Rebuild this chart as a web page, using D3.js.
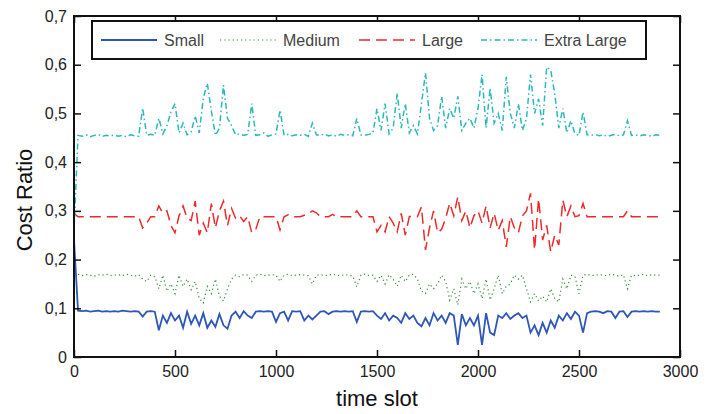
<!DOCTYPE html>
<html>
<head>
<meta charset="utf-8">
<script src="https://cdn.jsdelivr.net/npm/d3@7"></script>
<style>
	body { margin: 0; background: #fff; }
	text { font-family: "Liberation Sans", Arial, sans-serif; }
</style>
</head>
<body>
<div id="chart"></div>
<script>
// one value every 20 time slots, from slot 0 to slot 2900
const step = 20

const small = [
	0.24, 0.095, 0.094, 0.095, 0.093, 0.094, 0.095, 0.093, 0.094, 0.093,
	0.094, 0.093, 0.095, 0.094, 0.093, 0.094, 0.093, 0.083, 0.093, 0.094,
	0.093, 0.055, 0.085, 0.07, 0.09, 0.075, 0.085, 0.06, 0.093, 0.068,
	0.085, 0.065, 0.09, 0.06, 0.075, 0.062, 0.088, 0.065, 0.058, 0.085,
	0.093, 0.08, 0.094, 0.085, 0.08, 0.093, 0.094, 0.093, 0.094, 0.093,
	0.072, 0.09, 0.093, 0.075, 0.094, 0.093, 0.094, 0.075, 0.085, 0.077,
	0.085, 0.093, 0.094, 0.088, 0.093, 0.094, 0.093, 0.094, 0.093, 0.094,
	0.072, 0.093, 0.094, 0.093, 0.094, 0.085, 0.078, 0.09, 0.075, 0.085,
	0.08, 0.07, 0.09, 0.078, 0.085, 0.07, 0.063, 0.08, 0.065, 0.09,
	0.075, 0.085, 0.07, 0.09, 0.085, 0.025, 0.088, 0.065, 0.08, 0.065,
	0.085, 0.025, 0.09, 0.05, 0.045, 0.085, 0.08, 0.09, 0.078, 0.085,
	0.09, 0.08, 0.085, 0.05, 0.065, 0.045, 0.07, 0.05, 0.075, 0.06,
	0.085, 0.075, 0.09, 0.078, 0.093, 0.085, 0.05, 0.09, 0.093, 0.094,
	0.093, 0.09, 0.094, 0.093, 0.08, 0.093, 0.094, 0.082, 0.093, 0.094,
	0.093, 0.094, 0.093, 0.094, 0.093, 0.093
]

const medium = [
	0.168, 0.170, 0.167, 0.169, 0.168, 0.166, 0.169, 0.168, 0.170, 0.167,
	0.168, 0.169, 0.167, 0.170, 0.168, 0.166, 0.169, 0.16, 0.155, 0.168,
	0.165, 0.14, 0.168, 0.135, 0.15, 0.13, 0.168, 0.145, 0.16, 0.138,
	0.155, 0.12, 0.111, 0.145, 0.13, 0.16, 0.125, 0.115, 0.14, 0.16,
	0.168, 0.165, 0.169, 0.168, 0.155, 0.168, 0.17, 0.167, 0.168, 0.169,
	0.168, 0.155, 0.168, 0.17, 0.167, 0.168, 0.169, 0.168, 0.167, 0.15,
	0.168, 0.169, 0.167, 0.168, 0.17, 0.168, 0.167, 0.169, 0.168, 0.166,
	0.144, 0.168, 0.17, 0.167, 0.168, 0.155, 0.168, 0.15, 0.169, 0.16,
	0.145, 0.168, 0.155, 0.168, 0.17, 0.16, 0.135, 0.13, 0.15, 0.14,
	0.15, 0.168, 0.155, 0.117, 0.14, 0.107, 0.16, 0.14, 0.155, 0.13,
	0.15, 0.12, 0.16, 0.117, 0.14, 0.168, 0.13, 0.145, 0.15, 0.168,
	0.16, 0.168, 0.14, 0.113, 0.13, 0.115, 0.125, 0.113, 0.14, 0.12,
	0.113, 0.16, 0.14, 0.168, 0.165, 0.13, 0.168, 0.17, 0.167, 0.168,
	0.169, 0.168, 0.167, 0.17, 0.168, 0.166, 0.169, 0.14, 0.168, 0.167,
	0.168, 0.17, 0.167, 0.169, 0.168, 0.168
]

const large = [
	0.295, 0.288, 0.288, 0.288, 0.288, 0.288, 0.288, 0.288, 0.288, 0.288,
	0.288, 0.288, 0.288, 0.288, 0.288, 0.288, 0.288, 0.265, 0.275, 0.288,
	0.288, 0.31, 0.295, 0.30, 0.27, 0.255, 0.29, 0.31, 0.285, 0.28,
	0.32, 0.25, 0.275, 0.255, 0.315, 0.265, 0.30, 0.32, 0.27, 0.305,
	0.285, 0.29, 0.278, 0.288, 0.255, 0.262, 0.288, 0.288, 0.288, 0.288,
	0.288, 0.261, 0.288, 0.292, 0.288, 0.288, 0.288, 0.291, 0.294, 0.30,
	0.296, 0.288, 0.288, 0.288, 0.293, 0.288, 0.288, 0.288, 0.288, 0.288,
	0.30, 0.288, 0.288, 0.288, 0.288, 0.257, 0.27, 0.257, 0.288, 0.275,
	0.257, 0.295, 0.25, 0.288, 0.29, 0.288, 0.308, 0.22, 0.265, 0.30,
	0.255, 0.262, 0.285, 0.316, 0.29, 0.329, 0.28, 0.30, 0.265, 0.29,
	0.30, 0.275, 0.31, 0.265, 0.295, 0.26, 0.28, 0.226, 0.288, 0.265,
	0.255, 0.29, 0.30, 0.336, 0.22, 0.325, 0.24, 0.27, 0.216, 0.25,
	0.23, 0.322, 0.288, 0.31, 0.288, 0.29, 0.315, 0.288, 0.288, 0.288,
	0.288, 0.288, 0.288, 0.288, 0.288, 0.288, 0.288, 0.30, 0.288, 0.288,
	0.288, 0.288, 0.288, 0.288, 0.288, 0.288
]

const extraLarge = [
	0.26, 0.455, 0.453, 0.456, 0.452, 0.455, 0.457, 0.453, 0.455, 0.454,
	0.456, 0.453, 0.455, 0.452, 0.456, 0.454, 0.453, 0.511, 0.455, 0.457,
	0.455, 0.49, 0.458, 0.475, 0.503, 0.52, 0.46, 0.48, 0.456, 0.462,
	0.495, 0.46, 0.531, 0.562, 0.505, 0.455, 0.47, 0.558, 0.49, 0.475,
	0.456, 0.458, 0.455, 0.457, 0.52, 0.455, 0.456, 0.46, 0.453, 0.456,
	0.458, 0.507, 0.455, 0.457, 0.454, 0.456, 0.455, 0.457, 0.453, 0.48,
	0.456, 0.455, 0.458, 0.454, 0.456, 0.453, 0.457, 0.455, 0.456, 0.454,
	0.49, 0.456, 0.455, 0.457, 0.46, 0.51, 0.465, 0.52, 0.458, 0.47,
	0.542, 0.47, 0.52, 0.46, 0.475, 0.458, 0.52, 0.583, 0.49, 0.465,
	0.475, 0.535, 0.47, 0.51, 0.49, 0.535, 0.465, 0.48, 0.49, 0.47,
	0.51, 0.58, 0.47, 0.552, 0.48, 0.5, 0.465, 0.575, 0.5, 0.47,
	0.52, 0.465, 0.49, 0.58, 0.5, 0.53, 0.475, 0.595, 0.589, 0.54,
	0.47, 0.51, 0.46, 0.485, 0.458, 0.455, 0.503, 0.456, 0.455, 0.457,
	0.454, 0.456, 0.453, 0.455, 0.457, 0.454, 0.456, 0.485, 0.455, 0.456,
	0.454, 0.456, 0.455, 0.453, 0.456, 0.455
]

const seriesNames = ['Small', 'Medium', 'Large', 'Extra Large']
const xTicks = [0, 500, 1000, 1500, 2000, 2500, 3000]
const yTicks = [0, 0.1, 0.2, 0.3, 0.4, 0.5, 0.6, 0.7]

const styles = [
	{ color: '#2f57b8', dash: null, width: 1.8 },
	{ color: '#3a8a3a', dash: '1.2,3', width: 1.2 },
	{ color: '#ec2a2a', dash: '11,6', width: 1.5 },
	{ color: '#2bb8b8', dash: '6,3,1.5,3', width: 1.5 }
]

const allSeries = [small, medium, large, extraLarge]

const margin = { top: 16, right: 36, bottom: 57, left: 74 }
const width = 716, height = 414

let svg = d3.select('#chart')
	.append('svg')
	.attr('width', width)
	.attr('height', height)

let xScale = d3.scaleLinear()
	.domain([0, 3000])
	.range([margin.left, width - margin.right])

let yScale = d3.scaleLinear()
	.domain([0, 0.7])
	.range([height - margin.bottom, margin.top])

const comma = d3.formatLocale({ decimal: ',', thousands: '', grouping: [3], currency: ['', ''] }).format('.1f')
const yFormat = d => d === 0 ? '0' : comma(d)

const tickLen = 7

// lines
const line = d3.line()
	.x((d, i) => xScale(i * step))
	.y(d => yScale(d))

svg.selectAll('path.series')
	.data(allSeries)
	.join('path')
	.attr('class', 'series')
	.attr('d', d => line(d))
	.attr('fill', 'none')
	.attr('stroke', (d, i) => styles[i].color)
	.attr('stroke-width', (d, i) => styles[i].width)
	.attr('stroke-dasharray', (d, i) => styles[i].dash)

// axes
svg.append('g')
	.attr('transform', `translate(0,${height - margin.bottom})`)
	.call(d3.axisBottom(xScale).tickValues(xTicks).tickSizeInner(-tickLen).tickSizeOuter(0).tickPadding(9).tickFormat(d3.format('d')))

svg.append('g')
	.attr('transform', `translate(0,${margin.top})`)
	.call(d3.axisTop(xScale).tickValues(xTicks).tickSizeInner(-tickLen).tickSizeOuter(0).tickFormat(''))

svg.append('g')
	.attr('transform', `translate(${margin.left},0)`)
	.call(d3.axisLeft(yScale).tickValues(yTicks).tickSizeInner(-tickLen).tickSizeOuter(0).tickPadding(7).tickFormat(yFormat))

svg.append('g')
	.attr('transform', `translate(${width - margin.right},0)`)
	.call(d3.axisRight(yScale).tickValues(yTicks).tickSizeInner(-tickLen).tickSizeOuter(0).tickFormat(''))

svg.selectAll('.domain').remove()
svg.selectAll('.tick line').attr('stroke', '#111').attr('stroke-width', 1.5)
svg.selectAll('.tick text').attr('font-size', 16).attr('fill', '#222')
	.style('font-family', '"Liberation Sans", Arial, sans-serif')

svg.append('rect')
	.attr('x', margin.left)
	.attr('y', margin.top)
	.attr('width', width - margin.left - margin.right)
	.attr('height', height - margin.top - margin.bottom)
	.attr('fill', 'none')
	.attr('stroke', '#111')
	.attr('stroke-width', 2)

// axis titles
svg.append('text')
	.attr('x', (margin.left + width - margin.right) / 2)
	.attr('y', 406)
	.attr('text-anchor', 'middle')
	.attr('font-size', 22)
	.attr('fill', '#111')
	.text('time slot')

svg.append('text')
	.attr('transform', 'translate(32,200) rotate(-90)')
	.attr('text-anchor', 'middle')
	.attr('font-size', 22)
	.attr('fill', '#111')
	.text('Cost Ratio')

// legend
const legend = svg.append('g')

legend.append('rect')
	.attr('x', 92)
	.attr('y', 21)
	.attr('width', 554)
	.attr('height', 38)
	.attr('fill', '#fff')
	.attr('stroke', '#111')
	.attr('stroke-width', 2)

const legendX = [101, 220, 359, 481]

const items = legend.selectAll('g.item')
	.data(seriesNames)
	.join('g')
	.attr('class', 'item')
	.attr('transform', (d, i) => `translate(${legendX[i]},40)`)

items.append('line')
	.attr('x1', 0)
	.attr('x2', 56)
	.attr('stroke', (d, i) => styles[i].color)
	.attr('stroke-width', (d, i) => styles[i].width)
	.attr('stroke-dasharray', (d, i) => styles[i].dash)

items.append('text')
	.attr('x', 63)
	.attr('y', 5.5)
	.attr('font-size', 16)
	.attr('fill', '#444')
	.text(d => d)
</script>
</body>
</html>
